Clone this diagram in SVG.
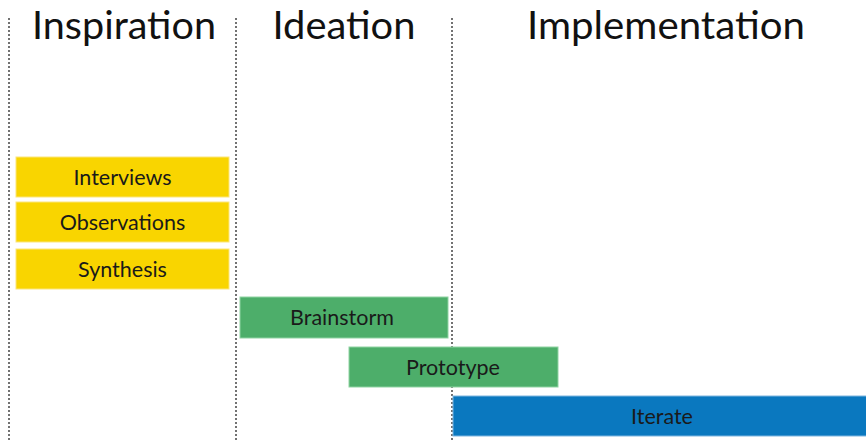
<svg xmlns="http://www.w3.org/2000/svg" width="866" height="440" viewBox="0 0 866 440">
  <style>
    .head { font-family: Lato, "Liberation Sans", sans-serif; font-size: 39px; fill: #111; text-anchor: middle; }
    .lbl { font-family: Lato, "Liberation Sans", sans-serif; font-size: 21.5px; fill: #1a1a1a; text-anchor: middle; }
    .divider { stroke: #444; stroke-width: 1.5; stroke-dasharray: 2 2; fill: none; }
    .yellow { fill: #F9D500; stroke: #FBE57A; stroke-width: 1; }
    .green { fill: #4DAE6A; stroke: #8FD3A2; stroke-width: 1; }
    .blue { fill: #0A78BF; stroke: #7FB6E0; stroke-width: 1; }
  </style>
  <rect width="866" height="440" fill="#fff"/>

  <!-- phase dividers -->
  <g id="connectors">
    <line class="divider" x1="9" y1="18" x2="9" y2="440"/>
    <line class="divider" x1="236" y1="18" x2="236" y2="440"/>
    <line class="divider" x1="452" y1="18" x2="452" y2="440"/>
  </g>

  <!-- phase headings -->
  <g id="headings">
    <text class="head" x="124" y="39" textLength="184" lengthAdjust="spacingAndGlyphs">Inspiration</text>
    <text class="head" x="344" y="39" textLength="143" lengthAdjust="spacingAndGlyphs">Ideation</text>
    <text class="head" x="666" y="39" textLength="278" lengthAdjust="spacingAndGlyphs">Implementation</text>
  </g>

  <g id="interviews">
    <rect class="yellow" x="16" y="157" width="213" height="40"/>
    <text class="lbl" x="122.5" y="184.5">Interviews</text>
  </g>
  <g id="observations">
    <rect class="yellow" x="16" y="202" width="213" height="40"/>
    <text class="lbl" x="122.5" y="229.5">Observations</text>
  </g>
  <g id="synthesis">
    <rect class="yellow" x="16" y="249" width="213" height="40"/>
    <text class="lbl" x="122.5" y="276.5">Synthesis</text>
  </g>
  <g id="brainstorm">
    <rect class="green" x="240" y="297" width="208" height="41"/>
    <text class="lbl" x="342" y="324.5">Brainstorm</text>
  </g>
  <g id="prototype">
    <rect class="green" x="349" y="347" width="209" height="40"/>
    <text class="lbl" x="453" y="374.5">Prototype</text>
  </g>
  <g id="iterate">
    <rect class="blue" x="453" y="396" width="415" height="40"/>
    <text class="lbl" x="662" y="423.5">Iterate</text>
  </g>
</svg>
